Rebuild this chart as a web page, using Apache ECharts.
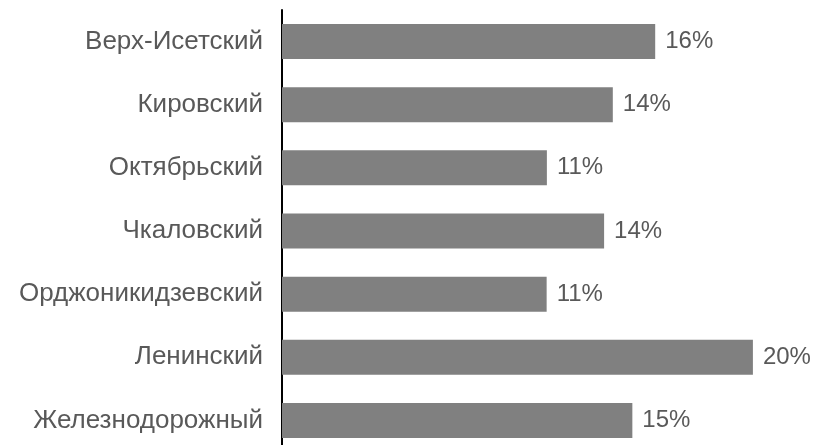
<!DOCTYPE html>
<html>
<head>
<meta charset="utf-8">
<script src="https://cdn.jsdelivr.net/npm/echarts@6/dist/echarts.min.js"></script>
<style>html,body{margin:0;padding:0;background:#fff;overflow:hidden;}#c{width:819px;height:460px;}</style>
</head>
<body>
<div id="c"></div>
<script>
var categories = ['Верх-Исетский', 'Кировский', 'Октябрьский', 'Чкаловский', 'Орджоникидзевский', 'Ленинский', 'Железнодорожный'];
var shares = [15.85, 14.05, 11.25, 13.68, 11.24, 20.0, 14.88];

var chart = echarts.init(document.getElementById('c'), null, {renderer: 'canvas'});
chart.setOption({
  animation: false,
  grid: {left: 282, top: 10, width: 518, height: 442, containLabel: false},
  xAxis: {
    type: 'value', min: 0, max: 22, show: false
  },
  yAxis: {
    type: 'category', data: categories, inverse: true,
    axisLine: {show: true, lineStyle: {color: '#000', width: 2}},
    axisTick: {show: false},
    splitLine: {show: false},
    axisLabel: {color: '#595959', fontSize: 26, fontFamily: 'Liberation Sans, Arial, sans-serif', margin: 19}
  },
  series: [{
    type: 'bar', data: shares, barWidth: 35,
    itemStyle: {color: '#808080'},
    label: {
      show: true, position: 'right', distance: 10,
      color: '#595959', fontSize: 24, fontFamily: 'Liberation Sans, Arial, sans-serif',
      formatter: function (p) { return Math.round(p.value) + '%'; }
    }
  }]
});
</script>
</body>
</html>
